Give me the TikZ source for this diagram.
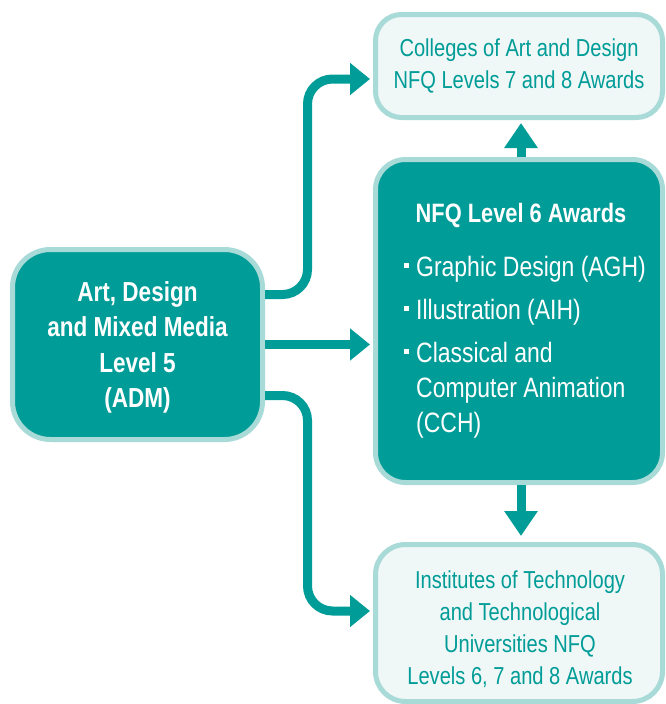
\documentclass[tikz,border=0pt]{standalone}
\usepackage{fontspec}
\setmainfont{Liberation Sans}[FakeStretch=0.82]
\usepackage{tikz}
\usetikzlibrary{arrows.meta}
\definecolor{tealdark}{HTML}{009C97}
\definecolor{tealedge}{HTML}{A8DAD8}
\definecolor{tealpale}{HTML}{EFF7F7}
\tikzstyle{darkbox}=[rectangle, fill=tealdark, draw=tealedge, line width=5pt, text=white, align=center]
\tikzstyle{lightbox}=[rectangle, fill=tealpale, draw=tealedge, line width=5pt, text=tealdark, align=center, font=\fontsize{24.5}{32}\selectfont]
\tikzstyle{arrow}=[draw=tealdark, line width=9pt, rounded corners=25pt, -{Triangle[length=20pt,width=31pt]}]
\tikzstyle{arrowv}=[draw=tealdark, line width=9pt, -{Triangle[length=25pt,width=32pt]}]
\newcommand{\bul}{\llap{\rule[8pt]{5pt}{5pt}\hspace{7pt}}}

\begin{document}
\begin{tikzpicture}[x=1pt, y=-1pt]
		   \useasboundingbox (0,0) rectangle (665,704);
		   \begin{scope}
			   \node (colleges) at (519,66)[lightbox, rounded corners=26pt, minimum width=287pt, minimum height=103pt] {Colleges of Art and Design\\NFQ Levels 7 and 8 Awards};
			   \node (nfq) at (519,321)[darkbox, rounded corners=30pt, minimum width=287pt, minimum height=323pt] {};
			   \node (adm) at (137.5,344.5)[darkbox, rounded corners=38pt, minimum width=250pt, minimum height=190pt, text depth=0pt, font=\bfseries\fontsize{27.5}{35.5}\selectfont] {Art, Design\\and Mixed Media\\Level 5\\(ADM)};
			   \node (itt) at (519,623)[lightbox, rounded corners=30pt, minimum width=287pt, minimum height=157pt] {};
			   \node (itttext) at (520,629)[text=tealdark, align=center, font=\fontsize{24.5}{32}\selectfont] {Institutes of Technology\\and Technological\\Universities NFQ\\Levels 6, 7 and 8 Awards};
			   \node (nfqtitle) at (521,215)[text=white, font=\bfseries\fontsize{26.6}{35}\selectfont] {NFQ Level 6 Awards};
			   \node (nfqlist) at (416,432)[anchor=base west, inner sep=0pt, text=white, align=left, font=\fontsize{28}{35}\selectfont] {\bul Graphic Design (AGH)\\[8pt]\bul Illustration (AIH)\\[8pt]\bul Classical and\\Computer Animation\\(CCH)};
		   \end{scope}
		   \begin{scope}
			   \draw[arrow, shorten >=3pt] ([yshift=50pt]adm.east) -- ++(42.5,0) |- ([yshift=-13pt]colleges.west);
			   \draw[arrow, shorten >=3pt] (adm.east) -- (adm.east -| nfq.west);
			   \draw[arrow, shorten >=3pt] ([yshift=-51pt]adm.east) -- ++(42.5,0) |- ([yshift=12pt]itt.west);
			   \draw[arrowv, shorten >=3pt] ([xshift=2pt]nfq.north) -- ([xshift=2pt]colleges.south);
			   \draw[arrowv, shorten >=6pt] ([xshift=2pt]nfq.south) -- ([xshift=2pt]itt.north);
		   \end{scope}
\end{tikzpicture}
\end{document}
